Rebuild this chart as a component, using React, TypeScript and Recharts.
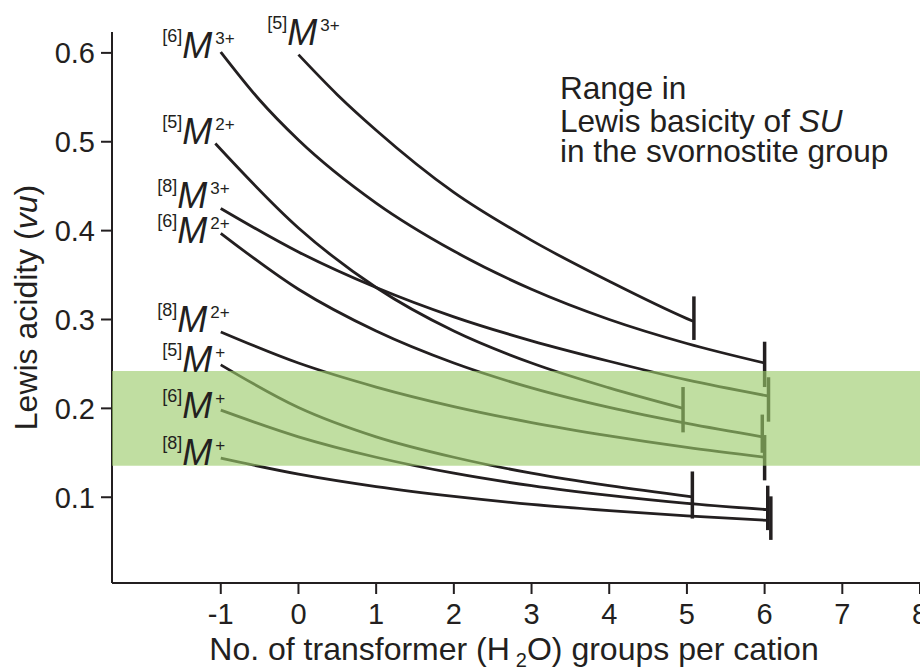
import React from 'react';
import {
  ComposedChart,
  Line,
  XAxis,
  YAxis,
  ReferenceArea,
  ReferenceLine,
  Scatter,
  Label,
} from 'recharts';

const INK = '#231f20';
const FONT = '"Liberation Sans", Arial, Helvetica, sans-serif';

// Lewis acidity (vu) vs. number of transformer (H2O) groups
const m6_3 = [
  { x: -1, y: 0.601 }, { x: -0.5, y: 0.547 }, { x: 0, y: 0.502 }, { x: 1, y: 0.431 },
  { x: 2, y: 0.377 }, { x: 3, y: 0.334 }, { x: 4, y: 0.300 }, { x: 5, y: 0.273 }, { x: 6, y: 0.251 },
];
const m5_3 = [
  { x: 0, y: 0.598 }, { x: 0.5, y: 0.553 }, { x: 1, y: 0.513 }, { x: 2, y: 0.443 },
  { x: 3, y: 0.389 }, { x: 4, y: 0.343 }, { x: 5, y: 0.301 }, { x: 5.08, y: 0.298 },
];
const m5_2 = [
  { x: -1.07, y: 0.498 }, { x: 0, y: 0.403 }, { x: 1, y: 0.336 }, { x: 2, y: 0.287 },
  { x: 3, y: 0.251 }, { x: 4, y: 0.223 }, { x: 4.95, y: 0.200 },
];
const m8_3 = [
  { x: -1, y: 0.425 }, { x: 0, y: 0.376 }, { x: 1, y: 0.336 }, { x: 2, y: 0.303 },
  { x: 3, y: 0.276 }, { x: 4, y: 0.253 }, { x: 5, y: 0.232 }, { x: 6.04, y: 0.214 },
];
const m6_2 = [
  { x: -1, y: 0.397 }, { x: 0, y: 0.334 }, { x: 1, y: 0.287 }, { x: 2, y: 0.251 },
  { x: 3, y: 0.223 }, { x: 4, y: 0.201 }, { x: 5, y: 0.183 }, { x: 5.97, y: 0.168 },
];
const m8_2 = [
  { x: -1, y: 0.286 }, { x: 0, y: 0.251 }, { x: 1, y: 0.224 }, { x: 2, y: 0.202 },
  { x: 3, y: 0.184 }, { x: 4, y: 0.169 }, { x: 5, y: 0.156 }, { x: 6, y: 0.145 },
];
const m5_1 = [
  { x: -1, y: 0.249 }, { x: 0, y: 0.201 }, { x: 1, y: 0.168 }, { x: 2, y: 0.145 },
  { x: 3, y: 0.127 }, { x: 4, y: 0.113 }, { x: 5.07, y: 0.1005 },
];
const m6_1 = [
  { x: -1, y: 0.198 }, { x: 0, y: 0.168 }, { x: 1, y: 0.145 }, { x: 2, y: 0.127 },
  { x: 3, y: 0.113 }, { x: 4, y: 0.102 }, { x: 5, y: 0.093 }, { x: 6.04, y: 0.086 },
];
const m8_1 = [
  { x: -1, y: 0.144 }, { x: 0, y: 0.126 }, { x: 1, y: 0.112 }, { x: 2, y: 0.101 },
  { x: 3, y: 0.092 }, { x: 4, y: 0.085 }, { x: 5, y: 0.079 }, { x: 6.04, y: 0.074 },
];

const seriesData = [m6_3, m5_3, m5_2, m8_3, m6_2, m8_2, m5_1, m6_1, m8_1];
const coordNumbers = ['6', '5', '5', '8', '6', '8', '5', '6', '8'];
const charges = ['3+', '3+', '2+', '3+', '2+', '2+', '+', '+', '+'];

// label anchor (left edge, baseline of M) in data units
const labelX = [-1.754, -0.403, -1.754, -1.818, -1.818, -1.818, -1.754, -1.754, -1.754];
const labelY = [0.594, 0.609, 0.4975, 0.425, 0.386, 0.286, 0.241, 0.189, 0.136];

// end-of-range markers
const endBarX = [6.0, 5.09, 4.95, 6.05, 5.97, 6.0, 5.07, 6.04, 6.08];
const endBarLow = [0.224, 0.277, 0.173, 0.185, 0.150, 0.119, 0.076, 0.063, 0.052];
const endBarHigh = [0.275, 0.326, 0.224, 0.235, 0.193, 0.170, 0.129, 0.113, 0.101];

// range in Lewis basicity of SU
const bandLow = 0.1355;
const bandHigh = 0.242;

const xTicks = [-1, 0, 1, 2, 3, 4, 5, 6, 7, 8];
const yTicks = [0.1, 0.2, 0.3, 0.4, 0.5, 0.6];
const xDomain: [number, number] = [-2.4, 8];
const yDomain: [number, number] = [0.0035, 0.6235];

const annotationAnchor = [{ x: 3.365, y: 0.5478 }];

const labelPoints = seriesData.map((_, i) => ({
  x: labelX[i],
  y: labelY[i],
  cn: coordNumbers[i],
  charge: charges[i],
}));

const CationLabel = (props: any) => {
  const { cx, cy, payload } = props;
  return (
    <text x={cx} y={cy} fill={INK} fontFamily={FONT}>
      <tspan fontSize={18} dy={-16}>[{payload.cn}]</tspan>
      <tspan fontSize={36} fontStyle="italic" dy={16}>M</tspan>
      <tspan fontSize={17} dy={-14} dx={3}>{payload.charge}</tspan>
    </text>
  );
};

const Annotation = (props: any) => {
  const { cx, cy } = props;
  return (
    <text x={cx} y={cy} fill={INK} fontFamily={FONT} fontSize={31.6}>
      <tspan x={cx}>Range in</tspan>
      <tspan x={cx} dy={32.4}>Lewis basicity of <tspan fontStyle="italic">SU</tspan></tspan>
      <tspan x={cx} dy={30}>in the svornostite group</tspan>
    </text>
  );
};

const XTitle = (props: any) => {
  const { x, y, width } = props.viewBox;
  return (
    <text x={x + width / 2 - 2} y={y + 77} textAnchor="middle" fill={INK} fontFamily={FONT} fontSize={32}>
      No. of transformer (H
      <tspan fontSize={20} dx={6} dy={7}>2</tspan>
      <tspan dy={-7}>O) groups per cation</tspan>
    </text>
  );
};

const YTitle = (props: any) => {
  const { y, height } = props.viewBox;
  const cx = 37;
  const cy = y + height / 2;
  return (
    <text
      x={cx}
      y={cy}
      textAnchor="middle"
      fill={INK}
      fontFamily={FONT}
      fontSize={32}
      transform={`rotate(-90, ${cx}, ${cy})`}
    >
      Lewis acidity (<tspan fontStyle="italic">vu</tspan>)
    </text>
  );
};

export default function App() {
  return (
    <div style={{ position: 'absolute', left: 0, top: 0 }}>
      <ComposedChart width={920} height={667} margin={{ top: 32, right: 0, bottom: 0, left: 0 }}>
        <XAxis
          type="number"
          dataKey="x"
          domain={xDomain}
          ticks={xTicks}
          interval={0}
          height={84}
          tickSize={11}
          tickMargin={9}
          axisLine={{ stroke: INK, strokeWidth: 2 }}
          tickLine={{ stroke: INK, strokeWidth: 2 }}
          tick={{ fill: INK, fontSize: 29, fontFamily: FONT }}
        >
          <Label content={XTitle} />
        </XAxis>
        <YAxis
          type="number"
          dataKey="y"
          domain={yDomain}
          ticks={yTicks}
          interval={0}
          width={112}
          tickSize={11}
          tickMargin={6}
          tickFormatter={(v: number) => v.toFixed(1)}
          axisLine={{ stroke: INK, strokeWidth: 2 }}
          tickLine={{ stroke: INK, strokeWidth: 2 }}
          tick={{ fill: INK, fontSize: 29, fontFamily: FONT }}
        >
          <Label content={YTitle} />
        </YAxis>
        {seriesData.map((d, i) => (
          <Line
            key={`s${i}`}
            data={d}
            dataKey="y"
            type="monotone"
            stroke={INK}
            strokeWidth={2.8}
            dot={false}
            activeDot={false}
            isAnimationActive={false}
          />
        ))}
        {endBarX.map((bx, i) => (
          <ReferenceLine
            key={`b${i}`}
            segment={[{ x: bx, y: endBarLow[i] }, { x: bx, y: endBarHigh[i] }]}
            stroke={INK}
            strokeWidth={3.5}
          />
        ))}
        <ReferenceArea
          x1={xDomain[0]}
          x2={xDomain[1]}
          y1={bandLow}
          y2={bandHigh}
          fill="#9ccb6a"
          fillOpacity={0.63}
          stroke="none"
          zIndex={1000}
        />
        <Scatter
          data={labelPoints}
          dataKey="y"
          shape={CationLabel}
          isAnimationActive={false}
          zIndex={2000}
        />
        <Scatter
          data={annotationAnchor}
          dataKey="y"
          shape={Annotation}
          isAnimationActive={false}
          zIndex={2000}
        />
      </ComposedChart>
    </div>
  );
}
